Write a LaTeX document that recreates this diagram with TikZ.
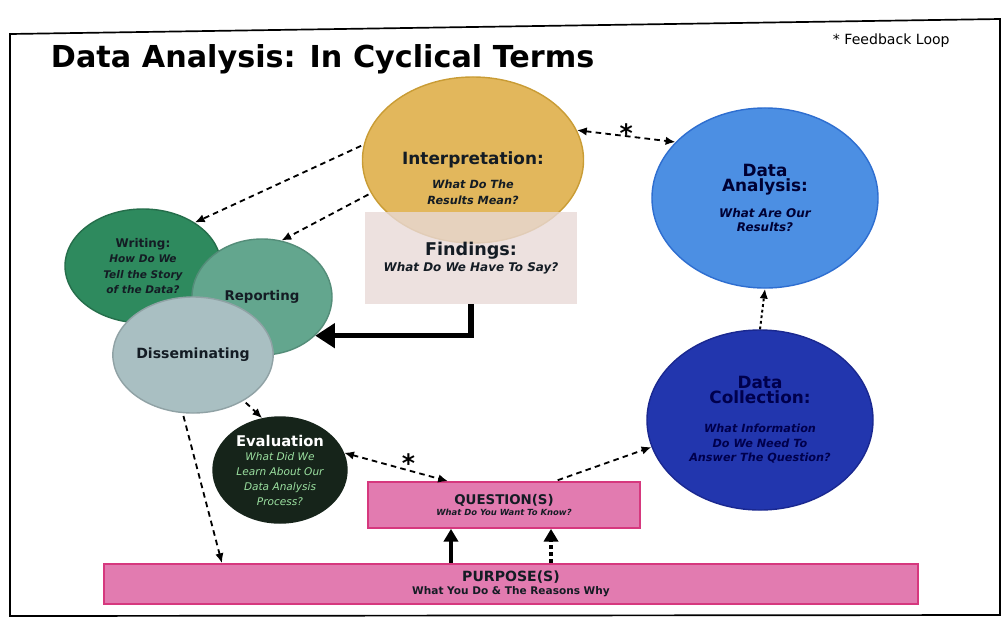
\documentclass[tikz,border=0pt]{standalone}
\usepackage{fontspec}
\setmainfont{DejaVu Sans}
\usepackage{tikz}
\usetikzlibrary{arrows.meta, shapes.geometric, positioning, calc}
\definecolor{interpfill}{HTML}{E2B75C}
\definecolor{interpline}{HTML}{C99C35}
\definecolor{findfill}{HTML}{E8D9D7}
\definecolor{anafill}{HTML}{4C8FE3}
\definecolor{analine}{HTML}{2E6ED0}
\definecolor{colfill}{HTML}{2236AE}
\definecolor{colline}{HTML}{1A2890}
\definecolor{writefill}{HTML}{2E8A5E}
\definecolor{repfill}{HTML}{63A68E}
\definecolor{dissfill}{HTML}{A9BFC2}
\definecolor{evalfill}{HTML}{16241A}
\definecolor{evaltext}{HTML}{9BE0A0}
\definecolor{barfill}{HTML}{E27BB0}
\definecolor{barline}{HTML}{D6387E}
\definecolor{darktext}{HTML}{141C24}
\tikzset{
   myoval/.style={ellipse, draw, line width=1pt, inner sep=0pt, align=center},
   mybar/.style={rectangle, draw=barline, fill=barfill, line width=1.2pt, inner sep=0pt, align=center},
   mydash/.style={dash pattern=on 4pt off 3pt, line width=1.3pt, shorten <=2pt,
      -{Latex[length=7pt,width=6pt]}},
   myfeed/.style={dash pattern=on 4pt off 3pt, line width=1.3pt,
      {Latex[length=7pt,width=6pt]}-{Latex[length=7pt,width=6pt]}},
   mydot/.style={dash pattern=on 2pt off 2pt, line width=1.4pt, -{Latex[length=7pt,width=6pt]}},
   mythick/.style={line width=4pt, -{Triangle[length=14pt,width=17pt]}},
   mystar/.style={font=\bfseries\fontsize{18}{18}\selectfont, inner sep=0pt}
}

\begin{document}
\begin{tikzpicture}[x=0.025cm, y=-0.025cm]
   \useasboundingbox (0,0) rectangle (1004,620);
   % frame and heading
   \draw[line width=1.2pt] (10,34) -- (1000,19) -- (1000,615) -- (10,616) -- cycle;
   \node[anchor=base west, font=\bfseries\fontsize{21.5}{22}\selectfont] (title) at (46,67)
      {Data Analysis: In Cyclical Terms};
   \node[anchor=base west, font=\fontsize{10}{10}\selectfont] (key) at (828,44) {* Feedback Loop};

   % left cluster
   \node[myoval, fill=writefill, draw=writefill!80!black, minimum width=3.9cm, minimum height=2.85cm,
      text=darktext, font=\bfseries\itshape\fontsize{7.5}{11}\selectfont] (writing) at (143,266)
      {{\upshape\fontsize{8.5}{11}\selectfont Writing:}\\ How Do We\\ Tell the Story\\ of the Data?};
   \node[myoval, fill=repfill, draw=repfill!85!black, minimum width=3.5cm, minimum height=2.9cm,
      text=darktext, font=\bfseries\fontsize{9.5}{11}\selectfont] (reporting) at (262,297) {Reporting};
   \node[myoval, fill=dissfill, draw=dissfill!85!black, minimum width=3.55cm, minimum height=2.9cm,
      text=darktext, font=\bfseries\fontsize{10}{11}\selectfont] (diss) at (193,355) {Disseminating};

   % interpretation and findings
   \node[myoval, fill=interpfill, draw=interpline, minimum width=5.525cm, minimum height=4.15cm] (interp) at (473,160) {};
   \node[rectangle, fill=findfill, fill opacity=0.8, text opacity=1, minimum width=5.3cm, minimum height=2.3cm,
      align=center, text=darktext, font=\bfseries\itshape\fontsize{8.5}{11}\selectfont] (findings) at (471,258)
      {{\upshape\fontsize{12.5}{14}\selectfont Findings:}\\ What Do We Have To Say?};
   \node[align=center, text=darktext, font=\bfseries\itshape\fontsize{8}{11}\selectfont] (interptxt) at (473,178)
      {{\upshape\fontsize{12}{14}\selectfont Interpretation:}\\[6pt] What Do The\\ Results Mean?};

   % right side
   \node[myoval, fill=anafill, draw=analine, minimum width=5.65cm, minimum height=4.5cm,
      text=blue!20!black, font=\bfseries\itshape\fontsize{8.5}{10.5}\selectfont] (analysis) at (765,198)
      {{\upshape\fontsize{12}{14}\selectfont Data}\\ {\upshape\fontsize{12}{14}\selectfont Analysis:}\\[8pt] What Are Our\\ Results?};
   \node[myoval, fill=colfill, draw=colline, minimum width=5.65cm, minimum height=4.5cm,
      text=blue!30!black, font=\bfseries\itshape\fontsize{8}{10.5}\selectfont] (collection) at (760,420)
      {{\upshape\fontsize{12}{13}\selectfont Data}\\ {\upshape\fontsize{12}{13}\selectfont Collection:}\\[10pt]
       What Information\\ Do We Need To\\ Answer The Question?};

   % evaluation and bars
   \node[myoval, fill=evalfill, draw=evalfill, minimum width=3.35cm, minimum height=2.65cm,
      text=evaltext, font=\itshape\fontsize{7.5}{10.5}\selectfont] (evaluation) at (280,470)
      {{\upshape\bfseries\color{white}\fontsize{10.5}{12}\selectfont Evaluation}\\ What Did We\\ Learn About Our\\ Data Analysis\\ Process?};
   \node[mybar, minimum width=6.8cm, minimum height=1.15cm, text=darktext,
      font=\bfseries\itshape\fontsize{6}{8}\selectfont] (question) at (504,505)
      {{\upshape\fontsize{9.5}{11}\selectfont QUESTION(S)}\\ What Do You Want To Know?};
   \node[mybar, minimum width=20.35cm, minimum height=1cm, text=darktext,
      font=\bfseries\fontsize{7.5}{9}\selectfont] (purpose) at (511,584)
      {{\fontsize{10}{11}\selectfont PURPOSE(S)}\\ What You Do \& The Reasons Why};

   % connectors
   \draw[mydash] (interp.172) -- (writing.40);
   \draw[mydash] (interp.198) -- (reporting.71);
   \draw[mythick] (findings.south) |- (reporting.-36);
   \draw[myfeed] (interp.16) -- node[mystar, midway, yshift=2pt] (star1) {*} (analysis.148);
   \draw[mydot] (collection.north) -- (analysis.south);
   \draw[mydash] ([xshift=1.275cm]question.north) -- (collection.194);
   \draw[myfeed] (evaluation.15) -- node[mystar, pos=0.62, yshift=5pt] (star2) {*} ([xshift=-1.4cm]question.north);
   \draw[mydash] (diss.-42) -- (evaluation.109);
   \draw[mydash] (diss.260) -- ([xshift=-7.225cm]purpose.north);
   \coordinate (pq1) at ([xshift=-1.5cm]purpose.north);
   \coordinate (pq2) at ([xshift=1cm]purpose.north);
   \draw[line width=2.5pt, -{Triangle[length=9pt,width=10pt]}] (pq1) -- (pq1 |- question.south);
   \draw[dash pattern=on 3pt off 2pt, line width=2.5pt, -{Triangle[length=9pt,width=10pt]}] (pq2) -- (pq2 |- question.south);
\end{tikzpicture}
\end{document}
